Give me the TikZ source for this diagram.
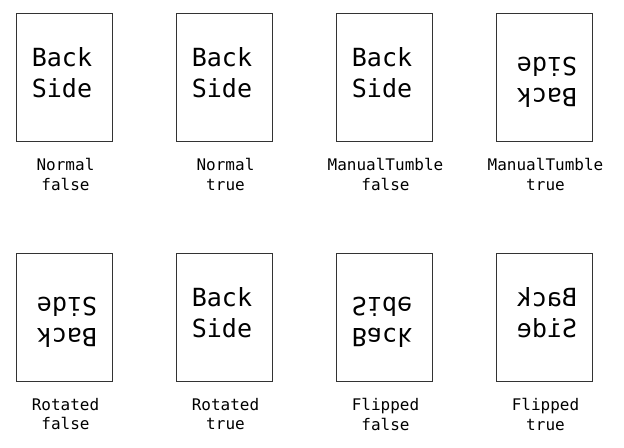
\documentclass[tikz,border=0pt]{standalone}
\usepackage{fontspec}
\usetikzlibrary{positioning}
\newfontfamily\monofont{DejaVu Sans Mono}

\begin{document}
\begin{tikzpicture}[
    sheet/.style={draw=black!80, line width=1.2bp, minimum width=96bp, minimum height=128bp, inner sep=0pt},
    side/.style={align=center, inner sep=0pt, xshift=-2.5bp, yshift=5bp, font=\monofont\fontsize{25bp}{31.3bp}\selectfont},
    lbl/.style={align=center, inner sep=0pt, xshift=1bp, font=\monofont\fontsize{16bp}{19.5bp}\selectfont}
]
\useasboundingbox (0,0) rectangle (624bp,-448bp);

% first row
\node[sheet] (normalF) at (64.5bp,-77.5bp) {};
\node[sheet] (normalT) at (224.5bp,-77.5bp) {};
\node[sheet] (tumbleF) at (384.5bp,-77.5bp) {};
\node[sheet] (tumbleT) at (544.5bp,-77.5bp) {};

\node[side] at (normalF) {Back\\Side};
\node[side] at (normalT) {Back\\Side};
\node[side] at (tumbleF) {Back\\Side};
\node[rotate=180, side] at (tumbleT) {Back\\Side};

\node[lbl, below=16bp of normalF] {Normal\\false};
\node[lbl, below=16bp of normalT] {Normal\\true};
\node[lbl, below=16bp of tumbleF] {ManualTumble\\false};
\node[lbl, below=16bp of tumbleT] {ManualTumble\\true};

% second row
\node[sheet] (rotF) at (64.5bp,-317.5bp) {};
\node[sheet] (rotT) at (224.5bp,-317.5bp) {};
\node[sheet] (flipF) at (384.5bp,-317.5bp) {};
\node[sheet] (flipT) at (544.5bp,-317.5bp) {};

\node[rotate=180, side] at (rotF) {Back\\Side};
\node[side] at (rotT) {Back\\Side};
\node[yscale=-1, side] at (flipF) {Back\\Side};
\node[xscale=-1, side] at (flipT) {Back\\Side};

\node[lbl, below=16bp of rotF] {Rotated\\false};
\node[lbl, below=16bp of rotT] {Rotated\\true};
\node[lbl, below=16bp of flipF] {Flipped\\false};
\node[lbl, below=16bp of flipT] {Flipped\\true};

\end{tikzpicture}
\end{document}
